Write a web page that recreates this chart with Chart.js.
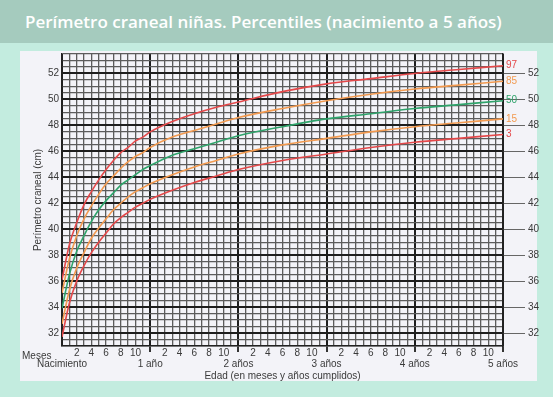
<!DOCTYPE html>
<html lang="es">
<head>
<meta charset="utf-8">
<title>Perímetro craneal niñas</title>
<script src="https://cdn.jsdelivr.net/npm/chart.js@4.4.1/dist/chart.umd.min.js"></script>
<style>
  html, body { margin: 0; padding: 0; }
  body { width: 553px; height: 397px; background: #c3ecdf; position: relative; overflow: hidden; }
  .cabecera { position: absolute; left: 0; top: 0; width: 553px; height: 43px; background: #a5cbbe; }
  .cabecera h1 { position: absolute; left: 25px; top: 10px; margin: 0; font: 600 17px 'Open Sans', sans-serif; color: #fff; white-space: nowrap; }
  .panel { position: absolute; left: 20px; top: 51px; width: 517px; height: 330px; background: #f3f3f8; }
  .grafico { position: absolute; left: 0; top: 0; width: 553px; height: 397px; }
</style>
</head>
<body>
<div class="cabecera"><h1>Perímetro craneal niñas. Percentiles (nacimiento a 5 años)</h1></div>
<div class="panel"></div>
<div class="grafico"><canvas id="perimetroChart"></canvas></div>
<script>
// Edad en meses
const meses = [0, 1, 2, 3, 4, 5, 6, 7, 8, 9, 10, 11, 12, 15, 18, 21, 24, 30, 36, 42, 48, 54, 60];
// Percentiles de perímetro craneal (cm)
const p3  = [31.7, 34.3, 36.0, 37.2, 38.2, 39.0, 39.7, 40.4, 40.9, 41.3, 41.7, 42.0, 42.3, 43.0, 43.6, 44.1, 44.6, 45.3, 45.8, 46.3, 46.7, 47.0, 47.3];
const p15 = [32.7, 35.3, 37.0, 38.2, 39.3, 40.1, 40.8, 41.5, 42.0, 42.5, 42.9, 43.2, 43.5, 44.2, 44.8, 45.3, 45.8, 46.5, 47.0, 47.5, 47.9, 48.2, 48.5];
const p50 = [33.9, 36.5, 38.3, 39.5, 40.6, 41.5, 42.2, 42.8, 43.4, 43.8, 44.2, 44.6, 44.9, 45.7, 46.2, 46.7, 47.2, 47.9, 48.5, 48.9, 49.3, 49.6, 49.9];
const p85 = [35.1, 37.7, 39.5, 40.8, 41.8, 42.7, 43.5, 44.1, 44.7, 45.2, 45.6, 45.9, 46.3, 47.1, 47.6, 48.1, 48.6, 49.3, 49.9, 50.4, 50.8, 51.1, 51.4];
const p97 = [36.1, 38.8, 40.5, 41.9, 42.9, 43.8, 44.6, 45.3, 45.9, 46.3, 46.8, 47.1, 47.5, 48.3, 48.9, 49.4, 49.8, 50.6, 51.2, 51.6, 52.0, 52.3, 52.6];
// Etiquetas
const etiquetasPercentil = ['97', '85', '50', '15', '3'];
const etiquetasAnio = ['Nacimiento', '1 año', '2 años', '3 años', '4 años', '5 años'];
const mesesEtiquetados = [2, 4, 6, 8, 10];

const fuente = "'Liberation Sans Narrow', 'Arial Narrow', sans-serif";
const rojo = '#e4484a';
const naranja = '#f29a50';
const verde = '#2fa36b';

function serie(valores) {
    return meses.map((m, i) => ({ x: m, y: valores[i] }));
}

// Etiquetas de percentil al final de cada curva y texto "Meses"
const textosExtra = {
    id: 'textosExtra',
    afterDatasetsDraw(chart) {
        const c = chart.ctx;
        c.save();
        c.font = '10px ' + fuente;
        c.textBaseline = 'middle';
        c.textAlign = 'left';
        chart.data.datasets.forEach((ds, i) => {
            const meta = chart.getDatasetMeta(i);
            const ultimo = meta.data[meta.data.length - 1];
            c.fillStyle = ds.borderColor;
            c.fillText(etiquetasPercentil[i], ultimo.x + 3, ultimo.y);
        });
        c.fillStyle = '#3a3a3a';
        c.fillText('Meses', chart.scales.x.left - 40, chart.scales.x.top + 10);
        c.restore();
    }
};

const ctx = document.getElementById('perimetroChart');
ctx.chart = new Chart(ctx, {
    type: 'line',
    data: {
        datasets: [
            { label: 'P97', data: serie(p97), borderColor: rojo },
            { label: 'P85', data: serie(p85), borderColor: naranja },
            { label: 'P50', data: serie(p50), borderColor: verde },
            { label: 'P15', data: serie(p15), borderColor: naranja },
            { label: 'P3', data: serie(p3), borderColor: rojo }
        ]
    },
    options: {
        responsive: true,
        maintainAspectRatio: false,
        animation: false,
        datasets: {
            line: { borderWidth: 1.6, pointRadius: 0, cubicInterpolationMode: 'monotone', fill: false }
        },
        layout: { padding: { left: 20, right: 10, top: 54, bottom: 15 } },
        scales: {
            x: {
                type: 'linear',
                min: 0,
                max: 60,
                afterFit: (s) => { s.height = 36; },
                border: { color: '#222', width: 1.5 },
                grid: {
                    color: (c) => c.tick.value % 12 === 0 ? '#1e1e1e' : '#5c5c5c',
                    lineWidth: (c) => c.tick.value % 12 === 0 ? 2 : 1.3,
                    tickColor: (c) => (c.tick.value % 12 === 0 && c.tick.value > 0) ? '#333' : 'rgba(0,0,0,0)',
                    tickLength: 6
                },
                ticks: {
                    stepSize: 1,
                    autoSkip: false,
                    maxRotation: 0,
                    padding: -4,
                    color: '#3a3a3a',
                    font: { family: fuente, size: 10, lineHeight: 1.08 },
                    callback: (v) => {
                        const m = v % 12;
                        if (m === 0) return ['', etiquetasAnio[v / 12]];
                        return mesesEtiquetados.includes(m) ? String(m) : '';
                    }
                },
                title: {
                    display: true,
                    text: 'Edad (en meses y años cumplidos)',
                    color: '#3a3a3a',
                    font: { family: fuente, size: 10, lineHeight: 1.2 },
                    padding: { top: 0, bottom: 0 }
                }
            },
            y: {
                min: 31,
                max: 53.5,
                afterFit: (s) => { s.width = 42; },
                border: { color: '#222', width: 1.5 },
                grid: {
                    color: (c) => c.tick.value % 2 === 0 ? '#1e1e1e' : '#5c5c5c',
                    lineWidth: (c) => c.tick.value % 2 === 0 ? 2 : 1.3,
                    drawTicks: false
                },
                ticks: {
                    stepSize: 0.5,
                    autoSkip: false,
                    padding: 3,
                    color: '#3a3a3a',
                    font: { family: fuente, size: 10 },
                    callback: (v) => (v % 2 === 0 ? String(v) : '')
                },
                title: {
                    display: true,
                    text: 'Perímetro craneal (cm)',
                    color: '#3a3a3a',
                    font: { family: fuente, size: 10, lineHeight: 1.2 },
                    padding: { top: 12, bottom: 0 }
                }
            },
            y2: {
                position: 'right',
                min: 31,
                max: 53.5,
                afterFit: (s) => { s.width = 40; },
                border: { color: '#222', width: 1.5 },
                grid: {
                    drawOnChartArea: false,
                    tickLength: 22,
                    tickColor: (c) => c.tick.value % 2 === 0 ? '#666' : 'rgba(0,0,0,0)',
                    tickWidth: 1
                },
                ticks: {
                    stepSize: 0.5,
                    autoSkip: false,
                    padding: 3,
                    color: '#3a3a3a',
                    font: { family: fuente, size: 10 },
                    callback: (v) => (v % 2 === 0 ? String(v) : '')
                }
            }
        },
        plugins: {
            legend: { display: false },
            tooltip: { enabled: false }
        }
    },
    plugins: [textosExtra]
});
</script>
</body>
</html>
